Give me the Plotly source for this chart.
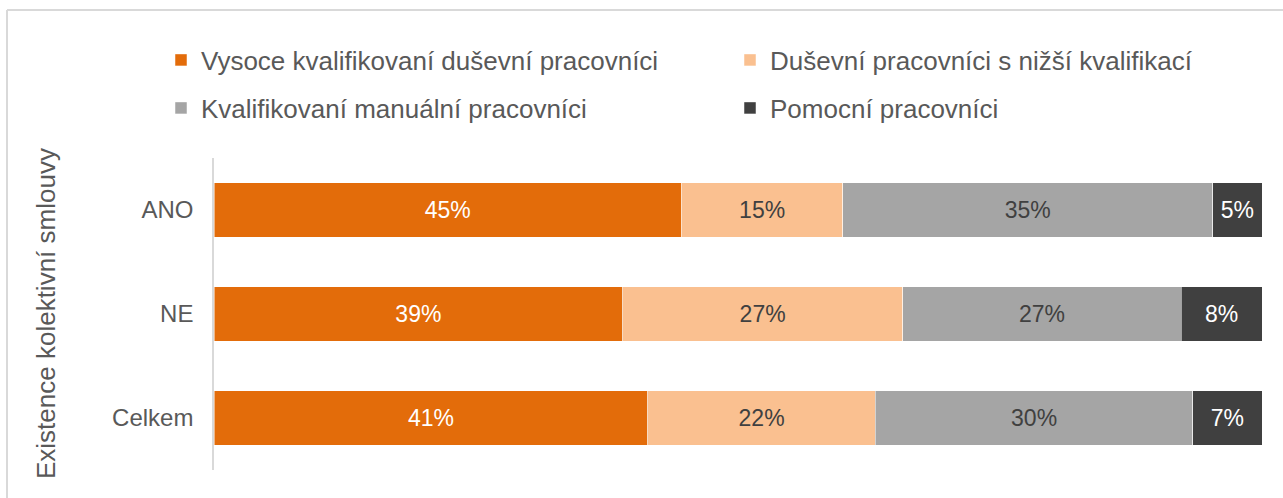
import plotly.graph_objects as go

groups = ["ANO", "NE", "Celkem"]
series_names = [
    "Vysoce kvalifikovaní duševní pracovníci",
    "Duševní pracovníci s nižší kvalifikací",
    "Kvalifikovaní manuální pracovníci",
    "Pomocní pracovníci",
]
vysoce = [44.6, 39.0, 41.4]
dusevni = [15.4, 26.7, 21.7]
manualni = [35.3, 26.6, 30.3]
pomocni = [4.7, 7.7, 6.6]

colors = ["#E36C0A", "#FAC090", "#A5A5A5", "#404040"]
text_colors = ["white", "#404040", "#404040", "white"]
legends = ["legend", "legend2", "legend3", "legend4"]

FONT = "Liberation Sans, Arial, sans-serif"
W, H = 1283, 498

fig = go.Figure()
for name, vals, c, tc, lg in zip(series_names, [vysoce, dusevni, manualni, pomocni],
                                  colors, text_colors, legends):
    fig.add_trace(go.Bar(
        y=groups, x=vals, name=name, orientation="h",
        marker=dict(color=c, line=dict(color="white", width=0.5)),
        texttemplate="%{x:.0f}%", textposition="inside",
        insidetextanchor="middle", textangle=0, constraintext="none",
        textfont=dict(color=tc, size=23, family=FONT),
        legend=lg,
    ))


def legend_at(px, py):
    return dict(
        orientation="h", xref="container", yref="container",
        x=px / W, y=1 - py / H, xanchor="left", yanchor="middle",
        font=dict(size=26, color="#595959", family=FONT),
        bgcolor="rgba(0,0,0,0)", borderwidth=0, itemclick=False,
    )


fig.update_layout(
    width=W, height=H,
    barmode="stack", bargap=0.48,
    plot_bgcolor="white", paper_bgcolor="white",
    margin=dict(l=214, r=21, t=158, b=28, autoexpand=False),
    font=dict(family=FONT, color="#595959"),
    showlegend=True,
    legend=legend_at(161, 60),
    legend2=legend_at(730, 60),
    legend3=legend_at(161, 108),
    legend4=legend_at(730, 108),
    xaxis=dict(range=[0, 100], visible=False, fixedrange=True),
    yaxis=dict(
        autorange="reversed", showline=True, linecolor="#D9D9D9", linewidth=1.5,
        showgrid=False, zeroline=False, ticks="", ticklabelstandoff=14,
        tickfont=dict(size=24, color="#595959", family=FONT),
    ),
)

fig.add_annotation(
    text="Existence kolektivní smlouvy", textangle=-90,
    xref="paper", yref="paper", x=(46 - 214) / 1048, y=0.5,
    xanchor="center", yanchor="middle", showarrow=False,
    font=dict(size=26, color="#595959", family=FONT),
)

# chart frame: only top and left edges fall inside the window
bx = (7 - 214) / 1048
by = (470 - 10) / 312
fig.add_shape(type="line", xref="paper", yref="paper", x0=bx, x1=1.1, y0=by, y1=by,
              line=dict(color="#D9D9D9", width=2), layer="below")
fig.add_shape(type="line", xref="paper", yref="paper", x0=bx, x1=bx, y0=by, y1=-0.2,
              line=dict(color="#D9D9D9", width=2), layer="below")

# drop the default 8px page margin so the figure sits at the window's corner
fig.write_html("out.html", config={"displayModeBar": False},
               post_script="document.body.style.margin='0px';")
